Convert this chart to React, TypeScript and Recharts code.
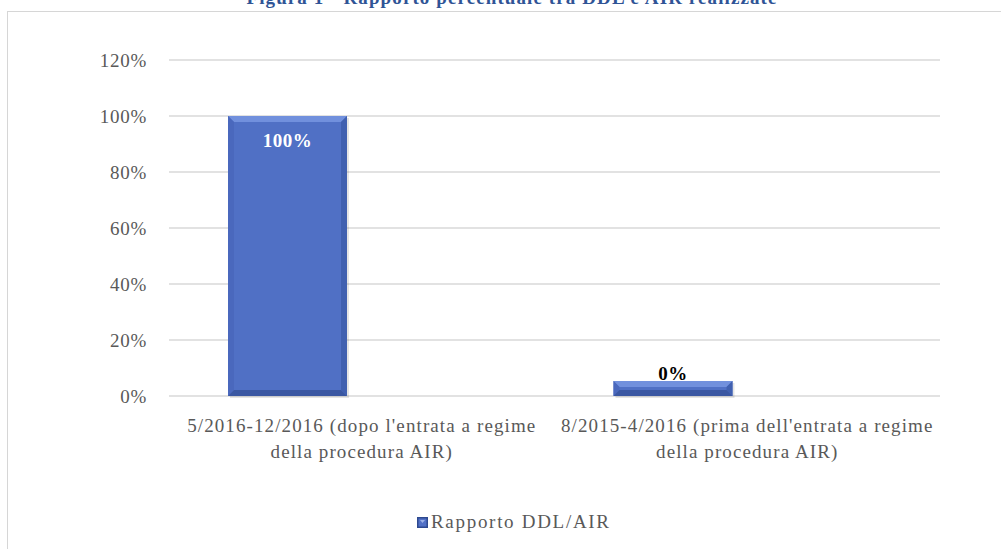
import React from 'react';
import { BarChart, Bar, XAxis, YAxis, CartesianGrid, Legend, LabelList } from 'recharts';

const FONT = "'Liberation Serif', 'Times New Roman', serif";

const titleText = 'Figura 1 - Rapporto percentuale tra DDL e AIR realizzate';
const seriesName = 'Rapporto DDL/AIR';
const categories = [
  "5/2016-12/2016 (dopo l'entrata a regime della procedura AIR)",
  "8/2015-4/2016 (prima dell'entrata a regime della procedura AIR)",
];
const categoryLines = [
  ["5/2016-12/2016 (dopo l'entrata a regime", 'della procedura AIR)'],
  ["8/2015-4/2016 (prima dell'entrata a regime", 'della procedura AIR)'],
];
const rapportoValues = [100, 0];
const emptySeriesValues: (number | null)[] = [null, null];
const yTicks = [0, 20, 40, 60, 80, 100, 120];

const data = categories.map((c, i) => ({
  category: c,
  rapporto: rapportoValues[i],
  vuoto: emptySeriesValues[i],
}));

const CategoryTick = (props: any) => {
  const { x, y, payload } = props;
  const idx = categories.indexOf(payload.value);
  const lines = idx >= 0 ? categoryLines[idx] : [String(payload.value)];
  return (
    <g>
      <text
        x={x}
        y={y}
        textAnchor="middle"
        fill="#595959"
        style={{ fontFamily: FONT, fontSize: 19, letterSpacing: 1.1 }}
      >
        {lines.map((l, i) => (
          <tspan key={i} x={x} dy={i === 0 ? 36 : 26}>
            {l}
          </tspan>
        ))}
      </text>
    </g>
  );
};

const BevelBar = (props: any) => {
  const { x, y, width, height } = props;
  if (width == null || height == null || !(height > 0) || !(width > 0)) return null;
  const b = Math.min(6, height / 2.5, width / 4);
  const x2 = x + width;
  const y2 = y + height;
  return (
    <g>
      <rect x={x + 2} y={y + 2} width={width} height={height} fill="rgba(0,0,0,0.1)" />
      <rect x={x} y={y} width={width} height={height} fill="#5070C5" />
      <polygon points={`${x},${y} ${x2},${y} ${x2 - b},${y + b} ${x + b},${y + b}`} fill="#7190DD" />
      <polygon points={`${x},${y} ${x + b},${y + b} ${x + b},${y2 - b} ${x},${y2}`} fill="#4A68BD" />
      <polygon points={`${x2},${y} ${x2},${y2} ${x2 - b},${y2 - b} ${x2 - b},${y + b}`} fill="#4060B0" />
      <polygon points={`${x},${y2} ${x + b},${y2 - b} ${x2 - b},${y2 - b} ${x2},${y2}`} fill="#3A57A2" />
    </g>
  );
};

const ValueLabel = (props: any) => {
  const { x, y, width, value } = props;
  if (value == null) return null;
  const inside = value >= 10;
  return (
    <text
      x={x + width / 2}
      y={inside ? y + 31 : y - 1}
      textAnchor="middle"
      fill={inside ? '#FFFFFF' : '#000000'}
      style={{ fontFamily: FONT, fontSize: 19, fontWeight: 'bold', letterSpacing: 0.5 }}
    >
      {`${value}%`}
    </text>
  );
};

const LegendContent = (props: any) => {
  const items = (props.payload || []).filter((p: any) => p.type !== 'none');
  return (
    <div style={{ position: 'relative', height: 24 }}>
      {items.map((it: any, i: number) => (
        <div
          key={i}
          style={{
            position: 'absolute',
            left: 417,
            top: 0,
            height: 24,
            display: 'flex',
            alignItems: 'center',
            fontFamily: FONT,
            fontSize: 19,
            letterSpacing: 1.7,
            color: '#595959',
            whiteSpace: 'nowrap',
          }}
        >
          <svg width={11} height={11} style={{ marginRight: 3 }}>
            <rect x={0} y={0} width={11} height={11} fill="#2E4A90" />
            <rect x={1.5} y={1.5} width={8} height={8} fill="#5271C6" />
            <polygon points="3,3 8,3 5.5,6" fill="#9DB2E8" />
          </svg>
          <span>{it.value}</span>
        </div>
      ))}
    </div>
  );
};

export default function App() {
  return (
    <div
      style={{
        position: 'absolute',
        left: 0,
        top: 0,
        width: 1001,
        height: 549,
        overflow: 'hidden',
        background: '#FFFFFF',
      }}
    >
      <div
        style={{
          position: 'absolute',
          left: 7,
          top: 11,
          width: 1100,
          height: 700,
          border: '1px solid #D6D6D6',
          boxSizing: 'border-box',
        }}
      />
      <svg width={1001} height={20} style={{ position: 'absolute', left: 0, top: 0 }}>
        <text
          x={512}
          y={3.5}
          textAnchor="middle"
          fill="#2F5496"
          style={{ fontFamily: FONT, fontSize: 19, fontWeight: 'bold', letterSpacing: 1.1 }}
        >
          {titleText}
        </text>
      </svg>
      <div style={{ position: 'absolute', left: 0, top: 0 }}>
        <BarChart
          width={1001}
          height={549}
          data={data}
          margin={{ top: 60, right: 61, bottom: 69, left: 109 }}
          barGap={30}
        >
          <CartesianGrid vertical={false} stroke="#D9D9D9" strokeWidth={1.3} />
          <XAxis
            dataKey="category"
            axisLine={false}
            tickLine={false}
            tickSize={0}
            tickMargin={0}
            height={60}
            interval={0}
            tick={<CategoryTick />}
          />
          <YAxis
            domain={[0, 120]}
            ticks={yTicks}
            tickFormatter={(v: number) => `${v}%`}
            axisLine={false}
            tickLine={false}
            tickSize={0}
            tickMargin={22}
            width={60}
            tick={{ fill: '#595959', fontSize: 19, fontFamily: FONT, letterSpacing: 0.7 } as any}
          />
          <Legend
            verticalAlign="bottom"
            wrapperStyle={{ left: 0, top: 510, width: 1001, height: 24 }}
            content={<LegendContent />}
          />
          <Bar
            dataKey="rapporto"
            name={seriesName}
            barSize={119}
            minPointSize={15}
            shape={<BevelBar />}
            isAnimationActive={false}
          >
            <LabelList dataKey="rapporto" content={<ValueLabel />} />
          </Bar>
          <Bar
            dataKey="vuoto"
            name="vuoto"
            barSize={119}
            legendType="none"
            fill="transparent"
            isAnimationActive={false}
          />
        </BarChart>
      </div>
    </div>
  );
}
